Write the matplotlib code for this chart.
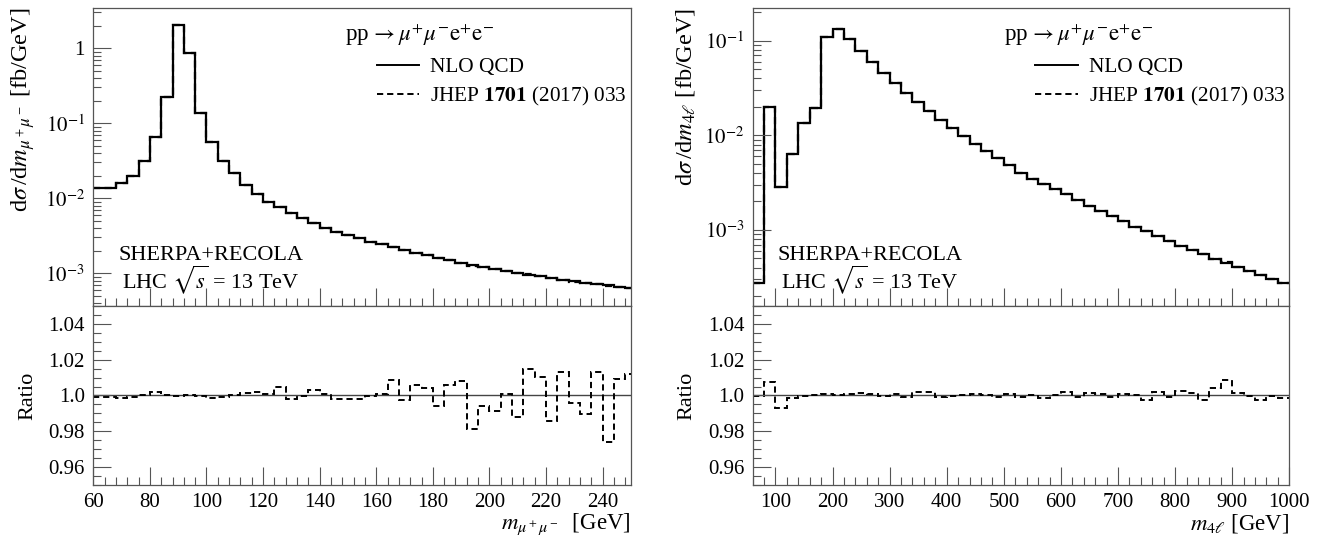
# -*- coding: utf-8 -*-
"""
plot.py
=======
Invariant-mass distributions pp -> mu+ mu- e+ e- (NLO QCD vs JHEP 1701 (2017) 033)
with ratio panels, SHERPA+RECOLA, LHC 13 TeV.
"""
import numpy as np
import matplotlib
matplotlib.use("Agg")
import matplotlib.pyplot as plt
from matplotlib.ticker import FixedLocator, MultipleLocator, LogLocator, NullFormatter, FuncFormatter
from matplotlib.lines import Line2D

plt.rcParams["font.family"] = ["Liberation Serif", "DejaVu Serif"]
plt.rcParams["mathtext.fontset"] = "stix"
plt.rcParams["font.size"] = 15.5

# --------------------------- data: m_{mu+mu-} -------------------------------
mmm_edges = list(range(60, 256, 4))  # 4 GeV bins, 60..252
mmm_nlo = [
    0.0136, 0.0138, 0.0158, 0.0200, 0.0314, 0.0663, 0.222, 2.05, 0.875, 0.136,
    0.0558, 0.0314, 0.0216, 0.0151, 0.0114, 0.0090, 0.0076, 0.0063, 0.0054, 0.00464,
    0.00406, 0.00359, 0.00324, 0.00293, 0.00264, 0.00244, 0.00224, 0.00205, 0.00187, 0.00173,
    0.00160, 0.00148, 0.00137, 0.00129, 0.00121, 0.00114, 0.00107, 0.00101, 0.00095, 0.000906,
    0.000865, 0.000814, 0.000778, 0.000743, 0.000710, 0.000688, 0.000657, 0.000637,
]
# ratio JHEP / NLO QCD
mmm_ratio = [
    0.999, 0.999, 0.9985, 0.999, 1.0, 1.002, 1.0005, 0.9995, 1.0, 0.9995,
    0.9985, 0.999, 1.0005, 1.0015, 1.002, 1.001, 1.005, 0.998, 0.9995, 1.003,
    1.001, 0.998, 0.998, 0.998, 0.9995, 1.001, 1.0088, 0.9972, 1.006, 1.0043,
    0.9944, 1.006, 1.008, 0.981, 0.9944, 0.9916, 1.001, 0.988, 1.015, 1.0105,
    0.986, 1.013, 0.996, 0.9897, 1.013, 0.974, 1.0094, 1.012,
]

# --------------------------- data: m_{4l} -----------------------------------
m4l_edges = list(range(60, 1001, 20))  # 20 GeV bins, 60..1000
m4l_nlo = [
    2.72e-4, 0.020, 2.86e-3, 6.34e-3, 0.0136, 0.0193, 0.1086, 0.132, 0.1035, 0.0784,
    0.060, 0.0459, 0.036, 0.0282, 0.0226, 0.0181, 0.0145, 0.01186, 0.00984, 0.0081,
    0.00688, 0.00571, 0.00485, 0.00403, 0.00345, 0.00305, 2.72e-3, 2.38e-3, 2.07e-3, 1.80e-3,
    1.58e-3, 1.40e-3, 1.24e-3, 1.08e-3, 9.66e-4, 8.62e-4, 7.64e-4, 6.81e-4, 6.13e-4, 5.56e-4,
    4.96e-4, 4.50e-4, 4.08e-4, 3.68e-4, 3.31e-4, 3.00e-4, 2.72e-4,
]
m4l_ratio = [
    0.9995, 1.0075, 0.993, 0.9987, 0.9996, 1.0, 1.0007, 1.0, 1.0007, 1.0015,
    1.001, 0.9995, 1.001, 0.9993, 1.002, 1.002, 0.9993, 0.9998, 1.0, 1.0006,
    1.0, 0.999, 1.0008, 0.999, 1.0, 0.9987, 1.0, 1.0019, 0.9989, 1.0015,
    1.0011, 0.999, 1.0006, 1.0, 0.9977, 1.002, 0.999, 1.0025, 1.0015, 0.9977,
    1.0043, 1.0086, 1.0015, 0.9996, 0.9972, 0.9996, 0.9985,
]

ratio_ticks = [0.96, 0.98, 1.0, 1.02, 1.04]
ratio_ticklabels = ["0.96", "0.98", "1.0", "1.02", "1.04"]

PROCESS = r"pp$\,\rightarrow\mu^{+}\mu^{-}\mathrm{e}^{+}\mathrm{e}^{-}$"
LAB_NLO = "NLO QCD"
LAB_REF = r"JHEP $\mathbf{1701}$ (2017) 033"

SPINE = "#555555"
DASH = (0, (3.2, 2.0))


def style_axis(ax):
    for s in ax.spines.values():
        s.set_color(SPINE)
        s.set_linewidth(0.9)
    ax.tick_params(which="both", direction="in", color=SPINE, width=0.8,
                   top=False, right=False, labelsize=15, pad=6)
    ax.tick_params(which="major", length=13)
    ax.tick_params(which="minor", length=5.5)


def log_fmt(v, pos):
    if abs(v - 1) < 1e-9:
        return "1"
    return r"$10^{%d}$" % int(round(np.log10(v)))


def draw_panel(fig, x0, w, edges, nlo, ratio, xlim, ylim, xmin_step,
               xticks, ylabel, xlabel, yticks_log):
    edges = np.asarray(edges, dtype=float)
    nlo = np.asarray(nlo)
    ratio = np.asarray(ratio)
    ref = nlo * ratio

    ax = fig.add_axes([x0, 0.4375, w, 0.5478])
    axr = fig.add_axes([x0, 0.1085, w, 0.329])

    # ---- main panel ----
    ax.stairs(nlo, edges, color="black", lw=1.6, baseline=None)
    ax.stairs(ref, edges, color="black", lw=1.6, ls=DASH, baseline=None)
    ax.set_yscale("log")
    ax.set_xlim(*xlim)
    ax.set_ylim(*ylim)
    style_axis(ax)
    ax.yaxis.set_major_locator(FixedLocator(yticks_log))
    ax.yaxis.set_major_formatter(FuncFormatter(log_fmt))
    ax.yaxis.set_minor_locator(LogLocator(base=10, subs=np.arange(2, 10)))
    ax.yaxis.set_minor_formatter(NullFormatter())
    ax.xaxis.set_major_locator(FixedLocator(xticks))
    ax.xaxis.set_minor_locator(MultipleLocator(xmin_step))
    ax.tick_params(axis="x", labelbottom=False)
    ax.set_ylabel(ylabel, loc="top", fontsize=17.5)
    ax.yaxis.set_label_coords(-0.104, 1.0)

    ax.text(0.468, 0.909, PROCESS, transform=ax.transAxes, ha="left", va="center", fontsize=16.5)
    handles = [Line2D([], [], color="black", lw=1.4),
               Line2D([], [], color="black", lw=1.4, ls=(0, (3.2, 2.0)))]
    ax.legend(handles, [LAB_NLO, LAB_REF], loc="upper left", bbox_to_anchor=(0.527, 0.835),
              frameon=False, borderpad=0, borderaxespad=0, handlelength=2.0,
              handletextpad=0.5, labelspacing=0.36, fontsize=15.3)
    ax.text(0.219, 0.171, "SHERPA+RECOLA", transform=ax.transAxes, ha="center", va="center", fontsize=16)
    ax.text(0.219, 0.087, r"LHC $\sqrt{s}$ = 13 TeV", transform=ax.transAxes,
            ha="center", va="center", fontsize=16)

    # ---- ratio panel ----
    axr.stairs(nlo / nlo, edges, color="#444444", lw=1.0, baseline=None)
    axr.stairs(ratio, edges, color="black", lw=1.4, ls=DASH, baseline=None)
    axr.set_xlim(*xlim)
    axr.set_ylim(0.95, 1.05)
    style_axis(axr)
    axr.set_yticks(ratio_ticks)
    axr.set_yticklabels(ratio_ticklabels)
    axr.yaxis.set_minor_locator(MultipleLocator(0.005))
    axr.xaxis.set_major_locator(FixedLocator(xticks))
    axr.xaxis.set_minor_locator(MultipleLocator(xmin_step))
    axr.set_ylabel("Ratio", fontsize=16)
    axr.yaxis.set_label_coords(-0.104, 0.5)
    axr.set_xlabel(xlabel, loc="right", fontsize=16.5)
    axr.xaxis.set_label_coords(1.0, -0.15)
    return ax, axr


def main():
    fig = plt.figure(figsize=(13.23, 5.44), dpi=100)

    draw_panel(fig, 0.0705, 0.4064, mmm_edges, mmm_nlo, mmm_ratio,
               xlim=(60, 250), ylim=(3.66e-4, 3.44), xmin_step=4,
               xticks=list(range(60, 241, 20)),
               ylabel=r"d$\sigma\,$/d$m_{\mu^+\mu^-}$ [fb/GeV]",
               xlabel=r"$m_{\mu^+\mu^-}$  [GeV]",
               yticks_log=[1e-3, 1e-2, 1e-1, 1.0])

    draw_panel(fig, 0.5689, 0.4056, m4l_edges, m4l_nlo, m4l_ratio,
               xlim=(60, 1000), ylim=(1.57e-4, 0.222), xmin_step=20,
               xticks=list(range(100, 1001, 100)),
               ylabel=r"d$\sigma\,$/d$m_{4\ell}$ [fb/GeV]",
               xlabel=r"$m_{4\ell}$ [GeV]",
               yticks_log=[1e-3, 1e-2, 1e-1])

    fig.savefig("out.png", dpi=100)
    plt.close(fig)


if __name__ == "__main__":
    main()
